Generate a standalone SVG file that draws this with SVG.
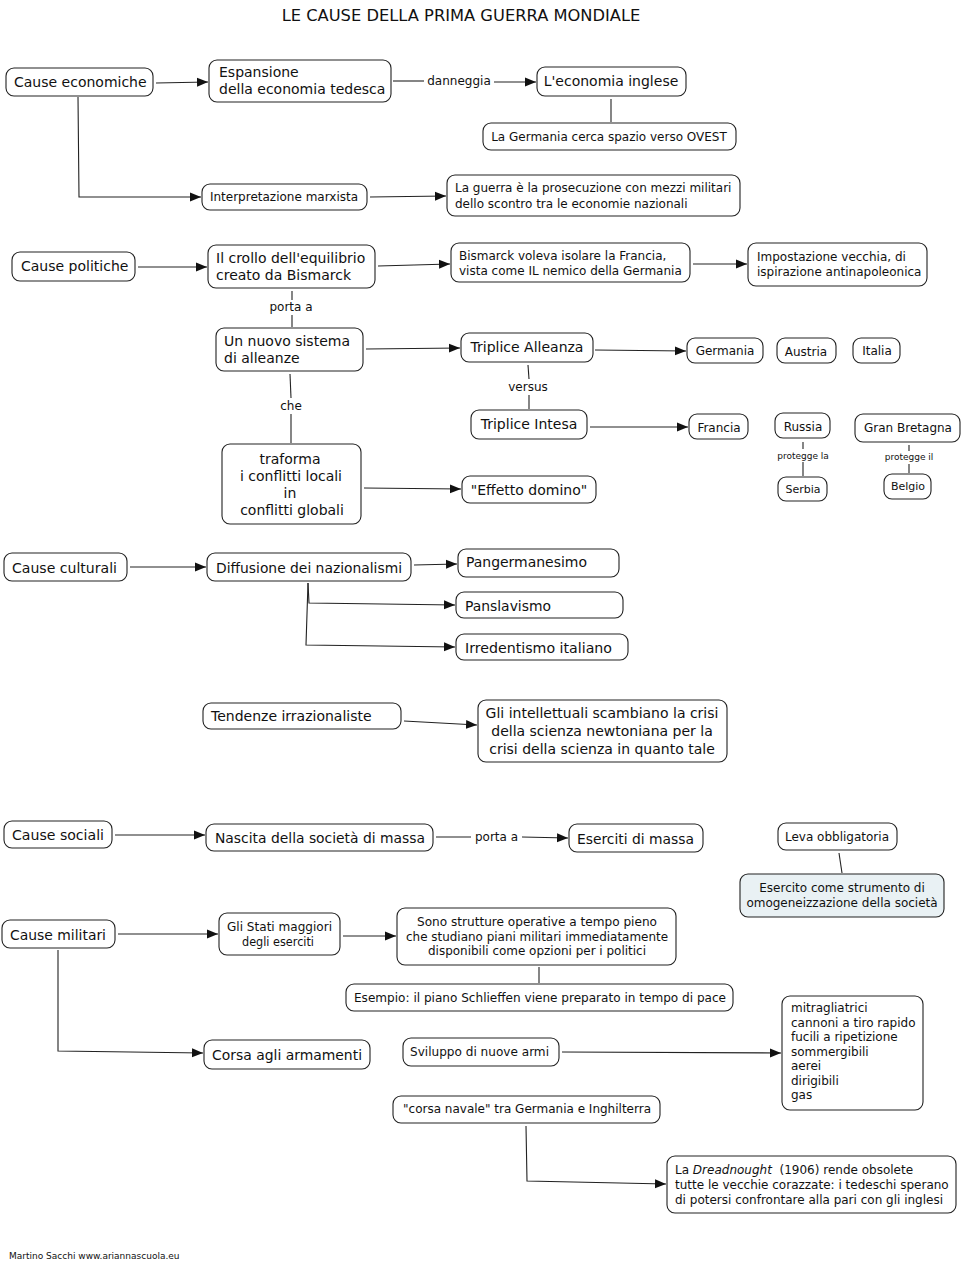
<svg xmlns="http://www.w3.org/2000/svg" width="962" height="1270" viewBox="0 0 962 1270">
<style>
text{font-family:"DejaVu Sans","Liberation Sans",sans-serif;fill:#111}
.n rect{fill:#fff;stroke:#222;stroke-width:1.1}
.n rect.b{fill:#e9f1f4}
.t14{font-size:14px}
.t12{font-size:12px}
.t11{font-size:11px}
.t9{font-size:9px}
.c{text-anchor:middle}
.cd{font-family:"DejaVu Sans Condensed","DejaVu Sans","Liberation Sans",sans-serif}
#conn line,#conn polyline{stroke:#222;stroke-width:1.1;fill:none}
.a{marker-end:url(#ah)}
</style>
<defs>
<marker id="ah" markerUnits="userSpaceOnUse" markerWidth="12" markerHeight="10" refX="11" refY="5" orient="auto"><path d="M0,0.5 L11,5 L0,9.5 z" fill="#111"/></marker>
</defs>
<rect width="962" height="1270" fill="#fff"/>
<text x="461" y="21" class="c" style="font-size:16.3px">LE CAUSE DELLA PRIMA GUERRA MONDIALE</text>
<text x="9" y="1259" class="t9">Martino Sacchi www.ariannascuola.eu</text>

<g id="conn">
<line class="a" x1="156" y1="83" x2="208" y2="82"/>
<line x1="393" y1="81" x2="424" y2="81"/>
<line class="a" x1="494" y1="82" x2="536" y2="82"/>
<line x1="611" y1="99" x2="611" y2="122"/>
<polyline class="a" points="78,97 79,197 201,197"/>
<line class="a" x1="370" y1="197" x2="446" y2="196"/>
<line class="a" x1="138" y1="267" x2="207" y2="267"/>
<line class="a" x1="378" y1="266" x2="450" y2="264"/>
<line class="a" x1="693" y1="264" x2="747" y2="264"/>
<line x1="292" y1="291" x2="292" y2="300"/>
<line x1="292" y1="315" x2="292" y2="327"/>
<line class="a" x1="366" y1="349" x2="460" y2="348"/>
<line x1="290" y1="374" x2="291" y2="398"/>
<line x1="291" y1="414" x2="291" y2="443"/>
<line class="a" x1="364" y1="488" x2="461" y2="489"/>
<line x1="528" y1="365" x2="529" y2="379"/>
<line x1="529" y1="395" x2="529" y2="409"/>
<line class="a" x1="595" y1="350" x2="686" y2="351"/>
<line class="a" x1="590" y1="427" x2="688" y2="427"/>
<line x1="803" y1="442" x2="803" y2="449"/>
<line x1="803" y1="462" x2="803" y2="476"/>
<line x1="909" y1="445" x2="909" y2="451"/>
<line x1="909" y1="464" x2="909" y2="473"/>
<line class="a" x1="130" y1="567" x2="206" y2="567"/>
<line class="a" x1="414" y1="565" x2="457" y2="564"/>
<polyline class="a" points="308,583 309,603 455,605"/>
<polyline class="a" points="308,583 306,645 455,647"/>
<line class="a" x1="404" y1="721" x2="477" y2="725"/>
<line class="a" x1="115" y1="835" x2="205" y2="835"/>
<line x1="436" y1="837" x2="471" y2="837"/>
<line class="a" x1="522" y1="837" x2="568" y2="838"/>
<line x1="839" y1="853" x2="842" y2="873"/>
<line class="a" x1="118" y1="934" x2="218" y2="934"/>
<line class="a" x1="343" y1="936" x2="396" y2="936"/>
<line x1="539" y1="967" x2="539" y2="983"/>
<polyline class="a" points="58,950 58,1051 203,1053"/>
<line class="a" x1="562" y1="1052" x2="781" y2="1053"/>
<polyline class="a" points="526,1126 527,1181 666,1184"/>
</g>
<text x="459" y="85" class="t12 c">danneggia</text>
<text x="291" y="311" class="t12 c">porta a</text>
<text x="291" y="410" class="t12 c">che</text>
<text x="528" y="391" class="t12 c">versus</text>
<text x="803" y="459" class="t9 c">protegge la</text>
<text x="909" y="460" class="t9 c">protegge il</text>
<text x="475" y="841" class="t12 cd" textLength="43" lengthAdjust="spacingAndGlyphs">porta a</text>

<g id="n-economiche" class="n"><rect x="6" y="68" width="147" height="28" rx="8"/><text x="14" y="87" class="t14">Cause economiche</text></g>
<g id="n-espansione" class="n"><rect x="209" y="60" width="182" height="42" rx="8"/><text x="219" y="77" class="t14">Espansione</text><text x="219" y="94" class="t14">della economia tedesca</text></g>
<g id="n-inglese" class="n"><rect x="537" y="67" width="149" height="29" rx="8"/><text x="611" y="86" class="t14 c">L'economia inglese</text></g>
<g id="n-ovest" class="n"><rect x="483" y="123" width="253" height="27" rx="8"/><text x="609" y="141" class="t12 c">La Germania cerca spazio verso OVEST</text></g>
<g id="n-marxista" class="n"><rect x="202" y="184" width="165" height="26" rx="8"/><text x="284" y="201" class="t12 c">Interpretazione marxista</text></g>
<g id="n-guerra" class="n"><rect x="447" y="175" width="293" height="41" rx="8"/><text x="455" y="192" class="t12">La guerra è la prosecuzione con mezzi militari</text><text x="455" y="208" class="t12">dello scontro tra le economie nazionali</text></g>

<g id="n-politiche" class="n"><rect x="12" y="252" width="123" height="29" rx="8"/><text x="21" y="271" class="t14">Cause politiche</text></g>
<g id="n-crollo" class="n"><rect x="208" y="245" width="167" height="43" rx="8"/><text x="216" y="263" class="t14">Il crollo dell'equilibrio</text><text x="216" y="280" class="t14">creato da Bismarck</text></g>
<g id="n-bismarck" class="n"><rect x="451" y="243" width="239" height="39" rx="8"/><text x="459" y="260" class="t12">Bismarck voleva isolare la Francia,</text><text x="459" y="275" class="t12">vista come IL nemico della Germania</text></g>
<g id="n-impostazione" class="n"><rect x="748" y="243" width="179" height="43" rx="8"/><text x="757" y="261" class="t12">Impostazione vecchia, di</text><text x="757" y="276" class="t12">ispirazione antinapoleonica</text></g>
<g id="n-sistema" class="n"><rect x="216" y="328" width="147" height="43" rx="8"/><text x="224" y="346" class="t14">Un nuovo sistema</text><text x="224" y="363" class="t14">di alleanze</text></g>
<g id="n-traforma" class="n"><rect x="222" y="444" width="139" height="80" rx="8"/><text x="290" y="464" class="t14 c">traforma</text><text x="291" y="481" class="t14 c">i conflitti locali</text><text x="290" y="498" class="t14 c">in</text><text x="292" y="515" class="t14 c">conflitti globali</text></g>
<g id="n-alleanza" class="n"><rect x="461" y="333" width="132" height="29" rx="8"/><text x="527" y="352" class="t14 c">Triplice Alleanza</text></g>
<g id="n-intesa" class="n"><rect x="471" y="410" width="116" height="29" rx="8"/><text x="529" y="429" class="t14 c">Triplice Intesa</text></g>
<g id="n-domino" class="n"><rect x="462" y="476" width="134" height="27" rx="8"/><text x="529" y="495" class="t14 c">"Effetto domino"</text></g>
<g id="n-germania" class="n"><rect x="687" y="338" width="76" height="25" rx="8"/><text x="725" y="355" class="t12 c">Germania</text></g>
<g id="n-austria" class="n"><rect x="777" y="338" width="59" height="25" rx="8"/><text x="806" y="356" class="t12 c">Austria</text></g>
<g id="n-italia" class="n"><rect x="853" y="338" width="47" height="25" rx="8"/><text x="877" y="355" class="t12 c">Italia</text></g>
<g id="n-francia" class="n"><rect x="689" y="414" width="59" height="25" rx="8"/><text x="719" y="432" class="t12 c">Francia</text></g>
<g id="n-russia" class="n"><rect x="775" y="413" width="55" height="25" rx="8"/><text x="803" y="431" class="t12 c">Russia</text></g>
<g id="n-granbretagna" class="n"><rect x="855" y="414" width="105" height="28" rx="8"/><text x="908" y="432" class="t12 c">Gran Bretagna</text></g>
<g id="n-serbia" class="n"><rect x="778" y="477" width="49" height="24" rx="8"/><text x="803" y="493" class="t11 c">Serbia</text></g>
<g id="n-belgio" class="n"><rect x="884" y="474" width="47" height="25" rx="8"/><text x="908" y="490" class="t11 c">Belgio</text></g>

<g id="n-culturali" class="n"><rect x="4" y="553" width="123" height="28" rx="8"/><text x="12" y="573" class="t14 cd" textLength="105" lengthAdjust="spacingAndGlyphs">Cause culturali</text></g>
<g id="n-diffusione" class="n"><rect x="207" y="553" width="204" height="28" rx="8"/><text x="216" y="573" class="t14 cd" textLength="186" lengthAdjust="spacingAndGlyphs">Diffusione dei nazionalismi</text></g>
<g id="n-pangermanesimo" class="n"><rect x="458" y="549" width="161" height="28" rx="8"/><text x="466" y="567" class="t14 cd" textLength="121" lengthAdjust="spacingAndGlyphs">Pangermanesimo</text></g>
<g id="n-panslavismo" class="n"><rect x="456" y="592" width="167" height="26" rx="8"/><text x="465" y="611" class="t14 cd" textLength="86" lengthAdjust="spacingAndGlyphs">Panslavismo</text></g>
<g id="n-irredentismo" class="n"><rect x="456" y="634" width="172" height="26" rx="8"/><text x="465" y="653" class="t14 cd" textLength="147" lengthAdjust="spacingAndGlyphs">Irredentismo italiano</text></g>
<g id="n-tendenze" class="n"><rect x="203" y="703" width="198" height="26" rx="8"/><text x="211" y="721" class="t14">Tendenze irrazionaliste</text></g>
<g id="n-intellettuali" class="n"><rect x="478" y="700" width="249" height="62" rx="8"/><text x="602" y="718" class="t14 c">Gli intellettuali scambiano la crisi</text><text x="602" y="736" class="t14 c">della scienza newtoniana per la</text><text x="602" y="754" class="t14 c">crisi della scienza in quanto tale</text></g>

<g id="n-sociali" class="n"><rect x="4" y="821" width="108" height="27" rx="8"/><text x="12" y="840" class="t14 cd" textLength="92" lengthAdjust="spacingAndGlyphs">Cause sociali</text></g>
<g id="n-nascita" class="n"><rect x="206" y="824" width="227" height="27" rx="8"/><text x="215" y="843" class="t14 cd" textLength="210" lengthAdjust="spacingAndGlyphs">Nascita della società di massa</text></g>
<g id="n-eserciti" class="n"><rect x="569" y="824" width="134" height="28" rx="8"/><text x="577" y="844" class="t14 cd" textLength="117" lengthAdjust="spacingAndGlyphs">Eserciti di massa</text></g>
<g id="n-leva" class="n"><rect x="778" y="823" width="119" height="27" rx="8"/><text x="837" y="841" class="t12 c">Leva obbligatoria</text></g>
<g id="n-esercito" class="n"><rect class="b" x="740" y="874" width="204" height="43" rx="8"/><text x="842" y="892" class="t12 c">Esercito come strumento di</text><text x="842" y="907" class="t12 c">omogeneizzazione della società</text></g>

<g id="n-militari" class="n"><rect x="2" y="920" width="113" height="28" rx="8"/><text x="10" y="940" class="t14 cd" textLength="96" lengthAdjust="spacingAndGlyphs">Cause militari</text></g>
<g id="n-stati" class="n"><rect x="219" y="913" width="121" height="42" rx="8"/><text x="227" y="931" class="t12 cd" textLength="105" lengthAdjust="spacingAndGlyphs">Gli Stati maggiori</text><text x="242" y="946" class="t12 cd" textLength="72" lengthAdjust="spacingAndGlyphs">degli eserciti</text></g>
<g id="n-strutture" class="n"><rect x="397" y="908" width="279" height="57" rx="8"/><text x="417" y="926" class="t12 cd" textLength="240" lengthAdjust="spacingAndGlyphs">Sono strutture operative a tempo pieno</text><text x="406" y="941" class="t12 cd" textLength="262" lengthAdjust="spacingAndGlyphs">che studiano piani militari immediatamente</text><text x="428" y="955" class="t12 cd" textLength="218" lengthAdjust="spacingAndGlyphs">disponibili come opzioni per i politici</text></g>
<g id="n-esempio" class="n"><rect x="346" y="984" width="387" height="27" rx="8"/><text x="354" y="1002" class="t12 cd" textLength="372" lengthAdjust="spacingAndGlyphs">Esempio: il piano Schlieffen viene preparato in tempo di pace</text></g>
<g id="n-corsa" class="n"><rect x="204" y="1040" width="166" height="29" rx="8"/><text x="212" y="1060" class="t14 cd" textLength="150" lengthAdjust="spacingAndGlyphs">Corsa agli armamenti</text></g>
<g id="n-sviluppo" class="n"><rect x="403" y="1038" width="156" height="28" rx="8"/><text x="410" y="1056" class="t12 cd" textLength="139" lengthAdjust="spacingAndGlyphs">Sviluppo di nuove armi</text></g>
<g id="n-armi" class="n"><rect x="782" y="996" width="141" height="114" rx="8"/><text x="791" y="1012" class="t12">mitragliatrici</text><text x="791" y="1027" class="t12">cannoni a tiro rapido</text><text x="791" y="1041" class="t12">fucili a ripetizione</text><text x="791" y="1056" class="t12">sommergibili</text><text x="791" y="1070" class="t12">aerei</text><text x="791" y="1085" class="t12">dirigibili</text><text x="791" y="1099" class="t12">gas</text></g>
<g id="n-navale" class="n"><rect x="393" y="1096" width="267" height="27" rx="8"/><text x="527" y="1113" class="t12 c">"corsa navale" tra Germania e Inghilterra</text></g>
<g id="n-dreadnought" class="n"><rect x="667" y="1156" width="289" height="57" rx="8"/><text x="675" y="1174" class="t12" xml:space="preserve">La <tspan font-style="italic">Dreadnought</tspan>  (1906) rende obsolete</text><text x="675" y="1189" class="t12">tutte le vecchie corazzate: i tedeschi sperano</text><text x="675" y="1204" class="t12">di potersi confrontare alla pari con gli inglesi</text></g>
</svg>
